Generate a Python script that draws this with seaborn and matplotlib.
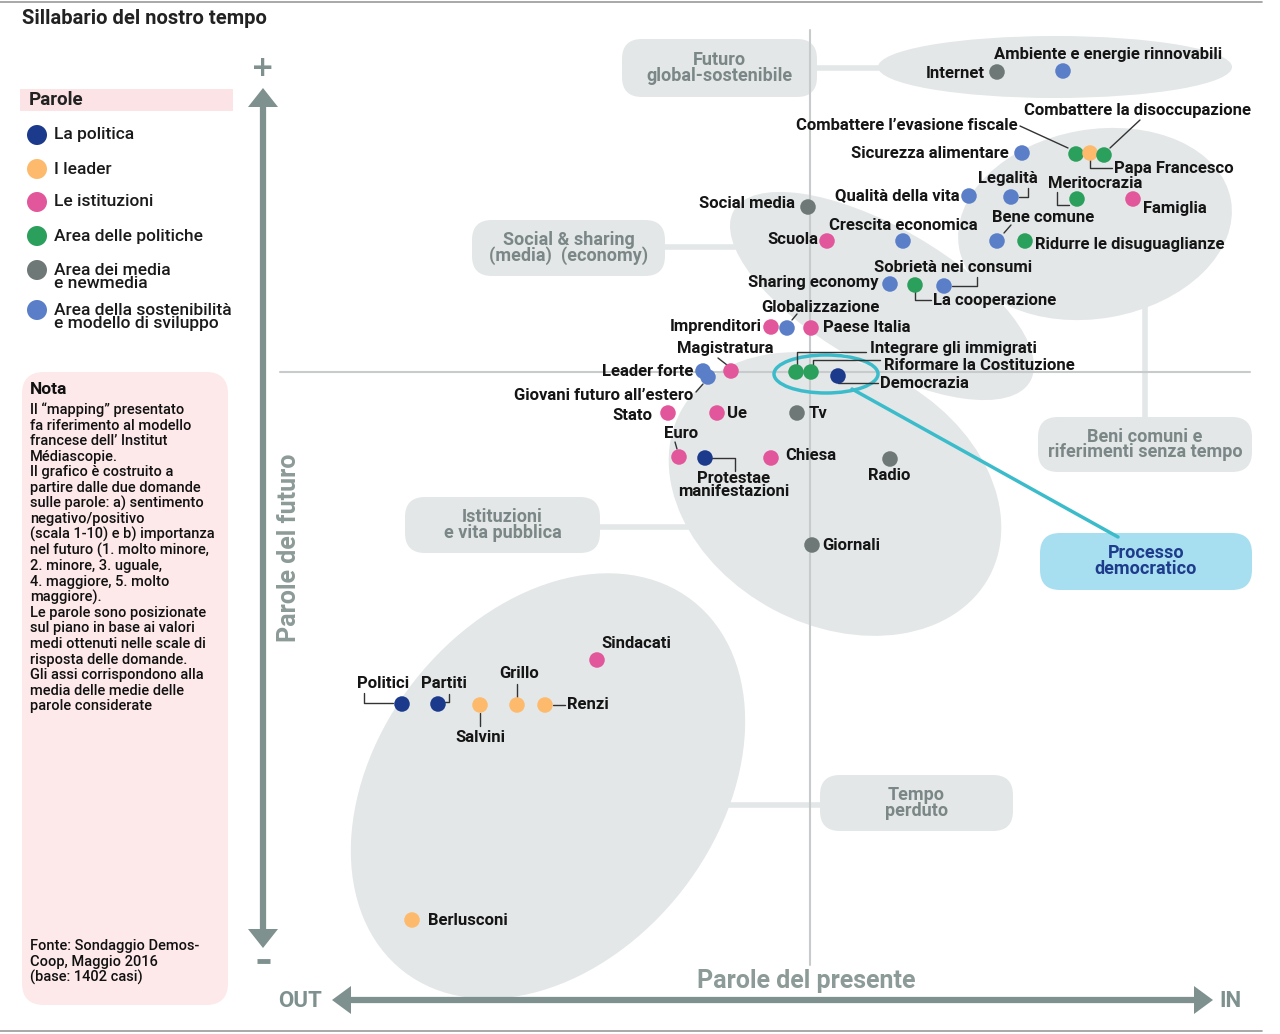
import matplotlib
matplotlib.use("Agg")
import matplotlib.pyplot as plt
from matplotlib import font_manager
from matplotlib.patches import Ellipse, FancyBboxPatch, Polygon, Rectangle, Circle
import seaborn as sns
import pandas as pd

# ---------------- data ----------------
words = ["Internet", "Ambiente e energie rinnovabili", "Combattere l’evasione fiscale", "Papa Francesco",
         "Combattere la disoccupazione", "Sicurezza alimentare", "Legalità", "Qualità della vita",
         "Meritocrazia", "Famiglia", "Bene comune", "Ridurre le disuguaglianze", "Social media", "Scuola",
         "Crescita economica", "Sharing economy", "La cooperazione", "Sobrietà nei consumi", "Imprenditori",
         "Globalizzazione", "Paese Italia", "Leader forte", "Giovani futuro all’estero", "Magistratura",
         "Integrare gli immigrati", "Riformare la Costituzione", "Democrazia", "Stato", "Ue", "Tv", "Euro",
         "Protestae\nmanifestazioni", "Chiesa", "Radio", "Giornali", "Sindacati", "Politici", "Partiti",
         "Salvini", "Grillo", "Renzi", "Berlusconi"]
groups = ["media", "sost", "politiche", "leader", "politiche", "sost", "sost", "sost",
          "politiche", "istituzioni", "sost", "politiche", "media", "istituzioni",
          "sost", "sost", "politiche", "sost", "istituzioni",
          "sost", "istituzioni", "sost", "sost", "istituzioni",
          "politiche", "politiche", "politica", "istituzioni", "istituzioni", "media", "istituzioni",
          "politica", "istituzioni", "media", "media", "istituzioni", "politica", "politica",
          "leader", "leader", "leader", "leader"]
presente = [18.7, 25.3, 26.6, 28.0, 29.4, 21.2, 20.1, 15.9, 26.7, 32.3, 18.7, 21.5, -0.2, 1.7,
            9.3, 8.0, 10.5, 13.4, -3.9, -2.3, 0.1, -10.7, -10.2, -7.9, -1.4, 0.1, 2.8, -14.2, -9.3,
            -1.3, -13.1, -10.5, -3.9, 8.0, 0.2, -21.3, -40.8, -37.2, -33.0, -29.3, -26.5, -39.8]
futuro = [30.0, 30.1, 21.8, 21.9, 21.7, 21.9, 17.5, 17.6, 17.3, 17.3, 13.1, 13.1, 16.5, 13.1,
          13.1, 8.8, 8.7, 8.6, 4.5, 4.4, 4.4, 0.1, -0.5, 0.1, 0.0, 0.0, -0.4, -4.1, -4.1,
          -4.1, -8.5, -8.6, -8.6, -8.7, -17.3, -28.8, -33.2, -33.2, -33.3, -33.3, -33.3, -54.8]

legend_keys = ["politica", "leader", "istituzioni", "politiche", "media", "sost"]
legend_labels = ["La politica", "I leader", "Le istituzioni", "Area delle politiche",
                 "Area dei media\ne newmedia", "Area della sostenibilità\ne modello di sviluppo"]

nota_lines = ["Il “mapping” presentato", "fa riferimento al modello", "francese dell’ Institut",
              "Médiascopie.", "Il grafico è costruito a", "partire dalle due domande",
              "sulle parole: a) sentimento", "negativo/positivo", "(scala 1-10) e b) importanza",
              "nel futuro (1. molto minore,", "2. minore, 3. uguale,", "4. maggiore, 5. molto",
              "maggiore).", "Le parole sono posizionate", "sul piano in base ai valori",
              "medi ottenuti nelle scale di", "risposta delle domande.", "Gli assi corrispondono alla",
              "media delle medie delle", "parole considerate"]
fonte_lines = ["Fonte: Sondaggio Demos-", "Coop, Maggio 2016", "(base: 1402 casi)"]

# ---------------- styles ----------------
palette = {"politica": "#1b3a8c", "leader": "#fdba6c", "istituzioni": "#e2569b",
           "politiche": "#2b9f5c", "media": "#6e7877", "sost": "#5a7ec8"}

# label layout: (dx, dy in px relative to point, ha, leader-line offsets)
label_layout = {
    "Internet": (-12, 2, "right", None),
    "Ambiente e energie rinnovabili": (45, -17, "center", None),
    "Combattere l’evasione fiscale": (-58, -29, "right", [(-56, -28), (-8, -6)]),
    "Papa Francesco": (24, 15, "left", [(0, 7), (0, 15), (22, 15)]),
    "Combattere la disoccupazione": (34, -45, "center", [(6, -7), (36, -35)]),
    "Sicurezza alimentare": (-13, 0, "right", None),
    "Legalità": (-3, -18, "center", [(8, 0), (17, 0), (17, -9)]),
    "Qualità della vita": (-9, 0, "right", None),
    "Meritocrazia": (18, -15, "center", [(-20, -7), (-20, 6), (-8, 6)]),
    "Famiglia": (10, 10, "left", None),
    "Bene comune": (46, -24, "center", [(7, -8), (14, -16)]),
    "Ridurre le disuguaglianze": (10, 4, "left", None),
    "Social media": (-13, -4, "right", None),
    "Scuola": (-9, -1, "right", None),
    "Crescita economica": (0, -15, "center", None),
    "Sharing economy": (-11, -1, "right", None),
    "La cooperazione": (18, 15, "left", [(0, 7), (0, 15), (16, 15)]),
    "Sobrietà nei consumi": (9, -18, "center", [(8, 0), (33, 0), (33, -9)]),
    "Imprenditori": (-9, 0, "right", None),
    "Globalizzazione": (33, -20, "center", [(5, -8), (10, -14)]),
    "Paese Italia": (12, 0, "left", None),
    "Leader forte": (-10, 0, "right", None),
    "Giovani futuro all’estero": (-15, 18, "right", [(-12, 15), (-5, 7)]),
    "Magistratura": (-6, -22, "center", [(-13, -13), (-4, -6)]),
    "Integrare gli immigrati": (74, -24, "left", [(1, -7), (1, -20), (70, -20)]),
    "Riformare la Costituzione": (73, -7, "left", [(2, -7), (2, -12), (69, -12)]),
    "Democrazia": (42, 7, "left", [(0, 7), (40, 7)]),
    "Stato": (-16, 2, "right", None),
    "Ue": (10, 0, "left", None),
    "Tv": (12, 0, "left", None),
    "Euro": (2, -23, "center", [(-2, -8), (-4, -15)]),
    "Protestae\nmanifestazioni": (29, 27, "center", [(7, 0), (30, 0), (30, 13)]),
    "Chiesa": (14, -3, "left", None),
    "Radio": (-1, 17, "center", None),
    "Giornali": (10, 0, "left", None),
    "Sindacati": (4, -16, "left", None),
    "Politici": (-19, -20, "center", [(-38, -11), (-38, -1), (-9, -1)]),
    "Partiti": (6, -20, "center", [(11, -10), (11, -2), (7, -2)]),
    "Salvini": (0, 32, "center", [(0, 8), (0, 21)]),
    "Grillo": (2, -32, "center", [(0, -21), (0, -8)]),
    "Renzi": (22, 0, "left", [(8, 0), (20, 0)]),
    "Berlusconi": (16, 1, "left", None),
}

available = {f.name for f in font_manager.fontManager.ttflist}
NARROW = "Liberation Sans Narrow" if "Liberation Sans Narrow" in available else "Roboto"
REG = "Roboto" if "Roboto" in available else "DejaVu Sans"

sns.set_theme(style="white")
plt.rcParams["font.family"] = [NARROW, "DejaVu Sans"]

BOXGRAY = "#e3e7e7"
BOXTXT = "#7b8786"
ARROW = "#7f918f"

fig = plt.figure(figsize=(12.8, 10.34), dpi=100)
ax = fig.add_axes([0, 0, 1, 1])


def P(px, py):
    return ((px - 810) / 10.0, (372 - py) / 10.0)


def line_px(pts, **kw):
    xs, ys = zip(*[P(*p) for p in pts])
    ax.plot(xs, ys, **kw)


def ellipse_px(cx, cy, w, h, ang, **kw):
    ax.add_patch(Ellipse(P(cx, cy), w / 10, h / 10, angle=ang, **kw))


def box_px(x0, y0, x1, y1, color, r=20, **kw):
    x, y = P(x0, y1)
    ax.add_patch(FancyBboxPatch((x, y), (x1 - x0) / 10, (y1 - y0) / 10,
                                boxstyle=f"round,pad=0,rounding_size={r/10}",
                                fc=color, ec="none", **kw))


# ---- frame lines
line_px([(0, 2), (1262, 2)], color="#9a9a9a", lw=1.2, zorder=0)
line_px([(0, 1031), (1262, 1031)], color="#9a9a9a", lw=1.2, zorder=0)

# ---- cluster ellipses
ellipse_px(1055, 67, 354, 62, 0, fc=BOXGRAY, ec="none", zorder=1)
ellipse_px(1095, 224, 276, 189, 10, fc=BOXGRAY, ec="none", zorder=1)
ellipse_px(882, 296, 342, 137, -30, fc=BOXGRAY, ec="none", zorder=1)
ellipse_px(835, 494, 350, 262, -28, fc=BOXGRAY, ec="none", zorder=1)
ellipse_px(548, 786, 470, 340, 52, fc=BOXGRAY, ec="none", zorder=1)

# ---- connectors
for pts in [[(817, 68), (890, 68)], [(665, 247), (750, 247)], [(600, 527), (700, 527)],
            [(710, 805), (820, 805)], [(1145, 300), (1145, 418)]]:
    line_px(pts, color=BOXGRAY, lw=4, solid_capstyle="butt", zorder=1)

# ---- category boxes
cat_boxes = [((622, 39, 817, 97), "Futuro\nglobal-sostenibile"),
             ((472, 220, 665, 276), "Social & sharing\n(media)  (economy)"),
             ((405, 497, 600, 553), "Istituzioni\ne vita pubblica"),
             ((820, 775, 1013, 831), "Tempo\nperduto"),
             ((1038, 417, 1252, 472), "Beni comuni e\nriferimenti senza tempo")]
for (x0, y0, x1, y1), txt in cat_boxes:
    box_px(x0, y0, x1, y1, BOXGRAY, zorder=1.5)
    ax.text(*P((x0 + x1) / 2, (y0 + y1) / 2), txt, ha="center", va="center", color=BOXTXT,
            fontsize=13, fontweight="bold", linespacing=0.85, zorder=6)

box_px(1040, 533, 1252, 590, "#a8dff0", zorder=1.5)
ax.text(*P(1146, 561), "Processo\ndemocratico", ha="center", va="center", color="#1d3c8c",
        fontsize=13, fontweight="bold", linespacing=0.85, zorder=6)

# ---- reference axes (thin)
line_px([(810, 30), (810, 965)], color="#c7cbcb", lw=1.5, zorder=2)
line_px([(280, 372), (1250, 372)], color="#c7cbcb", lw=1.5, zorder=2)

# ---- teal highlight
ellipse_px(826, 374, 104, 38, 0, fc="none", ec="#3cbccb", lw=2.5, zorder=3)
line_px([(852, 389), (1118, 537)], color="#3cbccb", lw=2.5, zorder=3)

# ---- big arrows
line_px([(263, 100), (263, 936)], color=ARROW, lw=4.5, zorder=2)
ax.add_patch(Polygon([P(263, 88), P(248, 107), P(278, 107)], fc=ARROW, ec="none", zorder=2))
ax.add_patch(Polygon([P(263, 948), P(248, 929), P(278, 929)], fc=ARROW, ec="none", zorder=2))
line_px([(345, 1000), (1200, 1000)], color=ARROW, lw=4.5, zorder=2)
ax.add_patch(Polygon([P(332, 1000), P(351, 986), P(351, 1014)], fc=ARROW, ec="none", zorder=2))
ax.add_patch(Polygon([P(1213, 1000), P(1194, 986), P(1194, 1014)], fc=ARROW, ec="none", zorder=2))
ax.text(*P(263, 68), "+", ha="center", va="center", color=ARROW, fontsize=20, fontweight="bold",
        family="DejaVu Sans")
line_px([(257, 961), (270, 961)], color=ARROW, lw=3.5, solid_capstyle="butt")
ax.text(*P(300, 1001), "OUT", ha="center", va="center", color=ARROW, fontsize=16, fontweight="bold")
ax.text(*P(1230, 1001), "IN", ha="center", va="center", color=ARROW, fontsize=16, fontweight="bold")
ax.text(*P(806, 981), "Parole del presente", ha="center", va="center", color="#8c9a98",
        fontsize=18, fontweight="bold")
ax.text(*P(289, 548), "Parole del futuro", ha="center", va="center", color="#8c9a98",
        fontsize=18, fontweight="bold", rotation=90)

# ---- title
ax.text(*P(22, 18), "Sillabario del nostro tempo", ha="left", va="center", color="#222222",
        fontsize=14.5, fontweight="bold", family=[REG, "DejaVu Sans"])

# ---- scatter points through seaborn
df = pd.DataFrame({"parola": words, "gruppo": groups, "presente": presente, "futuro": futuro})
sns.scatterplot(data=df, x="presente", y="futuro", hue="gruppo", palette=palette, s=125,
                edgecolor="none", linewidth=0, legend=False, ax=ax, zorder=5)
ax.set_xlim(-81, 47)
ax.set_ylim(-66.2, 37.2)
ax.axis("off")

for w, xv, yv in zip(words, presente, futuro):
    dx, dy, ha, leader = label_layout[w]
    ax.text(xv + dx / 10, yv - dy / 10, w, ha=ha, va="center", fontsize=12, fontweight="bold",
            color="#151515", linespacing=0.85, zorder=6)
    if leader:
        lx = [xv + a / 10 for a, b in leader]
        ly = [yv - b / 10 for a, b in leader]
        ax.plot(lx, ly, color="#333333", lw=1.0, zorder=4)

# ---- legend panel
ax.add_patch(Rectangle(P(20, 111), 21.3, 2.2, fc="#fbe3e6", ec="none"))
ax.text(*P(29, 100), "Parole", ha="left", va="center", fontsize=13.5, fontweight="bold",
        color="#222222", family=[REG, "DejaVu Sans"])
leg_y = [135, 169, 202, 236, 277, 317]
for k, lab, yy in zip(legend_keys, legend_labels, leg_y):
    cy = yy if "\n" not in lab else yy - 7
    ax.add_patch(Circle(P(37, cy), 1.0, fc=palette[k], ec="none"))
    ax.text(*P(54, yy), lab, ha="left", va="center", fontsize=12.5, color="#1a1a1a",
            fontweight="medium", linespacing=0.85, family=[REG, "DejaVu Sans"])

# ---- nota box
box_px(22, 372, 228, 1005, "#fde8ea", r=22, zorder=0.5)
ax.text(*P(30, 390), "Nota", ha="left", va="center", fontsize=12.5, fontweight="bold",
        color="#111111", family=[REG, "DejaVu Sans"])
for i, ln in enumerate(nota_lines):
    ax.text(*P(30, 410 + i * 15.6), ln, ha="left", va="center", fontsize=10.5,
            fontweight="medium", color="#111111", family=[REG, "DejaVu Sans"])
for i, ln in enumerate(fonte_lines):
    ax.text(*P(30, 946 + i * 15.6), ln, ha="left", va="center", fontsize=10.5,
            fontweight="medium", color="#111111", family=[REG, "DejaVu Sans"])

fig.savefig("out.png", dpi=100)
